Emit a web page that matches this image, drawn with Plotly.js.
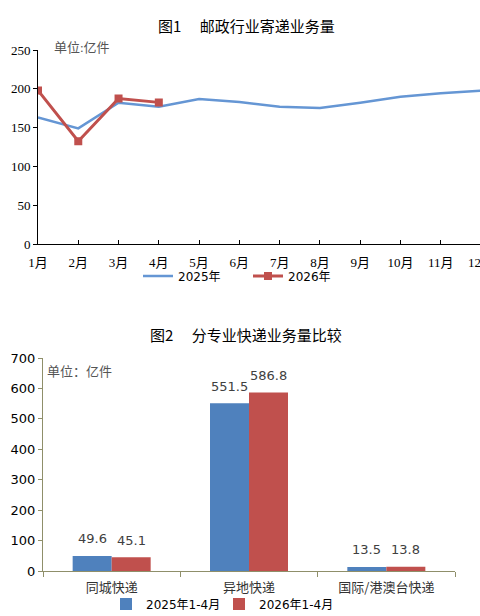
<!DOCTYPE html>
<html><head><meta charset="utf-8">
<script src="https://cdn.plot.ly/plotly-3.0.1.min.js"></script>
<style>html,body{margin:0;padding:0;overflow:hidden;background:#fff;width:480px;height:616px}</style>
</head><body>
<div id="chart" style="width:500px;height:616px"></div>
<script>
// Figure 1: monthly postal volume (亿件)
const months = [1,2,3,4,5,6,7,8,9,10,11,12];
const monthLabels = ['1月','2月','3月','4月','5月','6月','7月','8月','9月','10月','11月','12月'];
const vol2025 = [163.3,149.1,182.1,176.9,186.9,183.0,177.0,175.3,182.0,189.8,194.2,197.6];
const months2026 = [1,2,3,4];
const vol2026 = [198.0,132.7,187.5,182.6];

// Figure 2: express volume by segment (亿件)
const segments = ['同城快递','异地快递','国际/港澳台快递'];
const seg2025 = [49.6,551.5,13.5];
const seg2026 = [45.1,586.8,13.8];

const W = 500, H = 616;
const px = v => v / W, py = v => 1 - v / H;
const serif = '"Liberation Serif","Noto Sans CJK SC",serif';
const sans = '"DejaVu Sans","Noto Sans CJK SC",sans-serif';
const cjk = '"Noto Sans CJK SC","DejaVu Sans",sans-serif';
const blue = '#4F81BD', red = '#C0504D', axisCol = '#8F8F6A';

const traces = [
  {x: months, y: vol2025, type: 'scatter', mode: 'lines', name: '2025年',
   line: {color: '#6596D4', width: 2.5}, xaxis: 'x', yaxis: 'y', legend: 'legend'},
  {x: months2026, y: vol2026, type: 'scatter', mode: 'lines+markers', name: '2026年',
   line: {color: red, width: 3}, marker: {symbol: 'square', size: 8, color: red},
   xaxis: 'x', yaxis: 'y', legend: 'legend'},
  {x: segments, y: seg2025, type: 'bar', name: '2025年1-4月', marker: {color: blue},
   xaxis: 'x2', yaxis: 'y2', legend: 'legend2', hoverinfo: 'none'},
  {x: segments, y: seg2026, type: 'bar', name: '2026年1-4月', marker: {color: red},
   xaxis: 'x2', yaxis: 'y2', legend: 'legend2', hoverinfo: 'none'}
];

const annotations = [
  {text: '图1\u3000 邮政行业寄递业务量', xref: 'paper', yref: 'paper', x: px(246), y: py(25),
   xanchor: 'center', yanchor: 'middle', showarrow: false, font: {family: cjk, size: 15, color: '#000'}},
  {text: '单位:亿件', xref: 'paper', yref: 'paper', x: px(52), y: py(47),
   xanchor: 'left', yanchor: 'middle', showarrow: false, font: {family: serif, size: 13, color: '#555'}},
  {text: '图2\u3000 分专业快递业务量比较', xref: 'paper', yref: 'paper', x: px(246), y: py(335),
   xanchor: 'center', yanchor: 'middle', showarrow: false, font: {family: cjk, size: 15, color: '#000'}},
  {text: '单位：亿件', xref: 'paper', yref: 'paper', x: px(45), y: py(370),
   xanchor: 'left', yanchor: 'middle', showarrow: false, font: {family: cjk, size: 13, color: '#555'}}
];
segments.forEach((s, i) => {
  annotations.push({text: seg2025[i].toFixed(1), xref: 'x2', yref: 'y2', x: s, y: seg2025[i],
    xshift: -19.5, yshift: 17, yanchor: 'middle', showarrow: false, font: {family: sans, size: 13, color: '#404040'}});
  annotations.push({text: seg2026[i].toFixed(1), xref: 'x2', yref: 'y2', x: s, y: seg2026[i],
    xshift: 19.5, yshift: 17, yanchor: 'middle', showarrow: false, font: {family: sans, size: 13, color: '#404040'}});
});

const layout = {
  width: W, height: H,
  margin: {l: 0, r: 0, t: 0, b: 0, autoexpand: false},
  paper_bgcolor: '#fff', plot_bgcolor: 'rgba(0,0,0,0)',
  showlegend: true,
  barmode: 'group', bargap: 0.432, bargroupgap: 0,
  xaxis: {domain: [px(38), px(481)], range: [1, 12], tickvals: months, ticktext: monthLabels,
    showgrid: false, zeroline: false, showline: true, linecolor: '#000', linewidth: 1,
    ticks: 'inside', ticklen: 4, tickcolor: '#000', tickfont: {family: serif, size: 13, color: '#000'},
    ticklabelstandoff: 6, anchor: 'y', fixedrange: true, automargin: false},
  yaxis: {domain: [py(244.3), py(50)], range: [0, 250], tickvals: [0,50,100,150,200,250],
    showgrid: false, zeroline: false, showline: true, linecolor: '#000', linewidth: 1,
    ticks: 'outside', ticklen: 4, tickcolor: '#000', tickfont: {family: serif, size: 13, color: '#000'},
    anchor: 'x', fixedrange: true, automargin: false},
  xaxis2: {domain: [px(43), px(455)], type: 'category', showgrid: false, zeroline: false,
    showline: true, linecolor: axisCol, linewidth: 1, ticks: 'outside', tickson: 'boundaries',
    ticklen: 5, tickcolor: axisCol, tickfont: {family: cjk, size: 13, color: '#333'},
    ticklabelstandoff: 4, anchor: 'y2', fixedrange: true, automargin: false},
  yaxis2: {domain: [py(571), py(358)], range: [0, 700], dtick: 100, showgrid: false, zeroline: false,
    showline: true, linecolor: axisCol, linewidth: 1, ticks: 'outside', ticklen: 4, tickcolor: axisCol,
    tickfont: {family: sans, size: 13, color: '#000'}, anchor: 'x2', fixedrange: true, automargin: false},
  legend: {orientation: 'h', x: px(138), y: py(276), xanchor: 'left', yanchor: 'middle',
    font: {family: sans, size: 12, color: '#000'}, itemwidth: 30, bgcolor: 'rgba(0,0,0,0)',
    entrywidth: 65, entrywidthmode: 'pixels', tracegroupgap: 0},
  legend2: {orientation: 'h', x: px(106), y: py(604), xanchor: 'left', yanchor: 'middle',
    font: {family: sans, size: 12, color: '#000'}, itemwidth: 30, bgcolor: 'rgba(0,0,0,0)',
    entrywidth: 68, entrywidthmode: 'pixels'},
  annotations: annotations
};

Plotly.newPlot('chart', traces, layout, {displayModeBar: false, staticPlot: true});
</script>
</body></html>
